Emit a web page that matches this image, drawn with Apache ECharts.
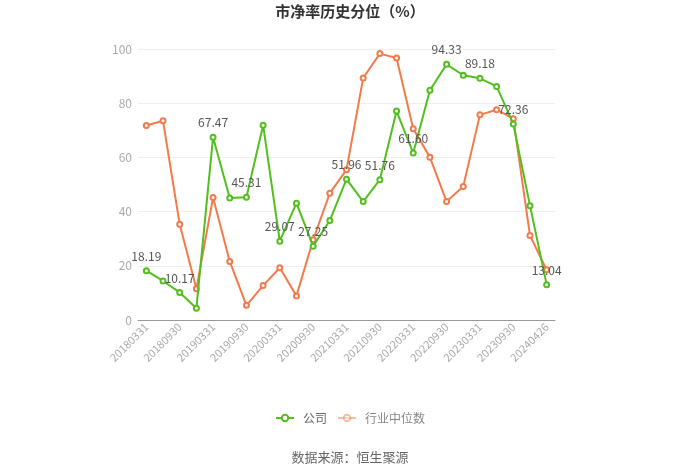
<!DOCTYPE html>
<html>
<head>
<meta charset="utf-8">
<script src="https://cdn.jsdelivr.net/npm/echarts@6/dist/echarts.min.js"></script>
<style>html,body{margin:0;padding:0;background:#fff}#c{width:700px;height:473px}</style>
</head>
<body>
<div id="c"></div>
<script>
var categories = ['20180331','20180630','20180930','20181231','20190331','20190630','20190930','20191231','20200331','20200630','20200930','20201231','20210331','20210630','20210930','20211231','20220331','20220630','20220930','20221231','20230331','20230630','20230930','20231231','20240426'];
var companyValues = [18.19,14.4,10.17,4.3,67.47,45.0,45.31,71.9,29.07,43.1,27.25,36.7,51.96,43.7,51.76,77.1,61.60,84.8,94.33,90.3,89.18,86.2,72.36,42.2,13.04];
var industryValues = [71.8,73.5,35.3,11.5,45.2,21.6,5.4,12.7,19.3,8.9,29.6,46.8,55.4,89.3,98.3,96.7,70.6,60.1,43.7,49.3,75.7,77.6,74.3,31.2,18.5];
var yTicks = [0,20,40,60,80,100];
var seriesNames = ['公司','行业中位数'];
var titleText = '市净率历史分位（%）';
var sourceText = '数据来源：恒生聚源';

var FONT = '"Noto Sans CJK SC","Noto Sans",sans-serif';
var green = '#52bf1e';
var orange = '#f47a4b';
var chart = echarts.init(document.getElementById('c'));
chart.setOption({
  backgroundColor: '#fff',
  textStyle: {fontFamily: FONT},
  title: {
    text: titleText, left: 'center', top: -1,
    textStyle: {fontSize: 15, fontWeight: 'bold', color: '#333', fontFamily: FONT}
  },
  legend: {
    top: 407, left: 'center',
    itemWidth: 18, itemHeight: 8, itemGap: 10,
    textStyle: {color: '#666', fontSize: 12, fontFamily: FONT, padding: [0, 0, 0, 4]},
    data: [
      {name: seriesNames[0]},
      {name: seriesNames[1], itemStyle: {opacity: 0.5}, lineStyle: {opacity: 0.5}, textStyle: {color: '#888'}}
    ]
  },
  graphic: [{
    type: 'text', left: 'center', top: 451,
    style: {text: sourceText, fill: '#666', fontSize: 13, fontFamily: FONT}
  }],
  grid: {left: 138, right: 145, top: 49, bottom: 153},
  xAxis: {
    type: 'category', data: categories, boundaryGap: true,
    axisLine: {lineStyle: {color: '#999'}},
    axisTick: {alignWithLabel: true, interval: 1, length: 4, lineStyle: {color: '#999'}},
    axisLabel: {interval: 1, rotate: 45, color: '#aaa', fontSize: 11, margin: 5}
  },
  yAxis: {
    type: 'value', min: yTicks[0], max: yTicks[yTicks.length-1], interval: 20,
    axisLine: {show: false}, axisTick: {show: false},
    axisLabel: {color: '#aaa', fontSize: 12, margin: 6},
    splitLine: {lineStyle: {color: '#eee'}}
  },
  series: [
    {
      name: seriesNames[0], type: 'line', data: companyValues,
      symbol: 'emptyCircle', symbolSize: 5,
      lineStyle: {width: 2, color: green}, itemStyle: {color: green},
      label: {
        show: true, position: 'top', color: '#555', fontSize: 12,
        formatter: function (p) { return p.dataIndex % 2 === 0 ? p.value.toFixed(2) : ''; }
      },
      z: 3
    },
    {
      name: seriesNames[1], type: 'line', data: industryValues,
      symbol: 'emptyCircle', symbolSize: 5,
      lineStyle: {width: 2, color: orange}, itemStyle: {color: orange},
      z: 2
    }
  ]
});
</script>
</body>
</html>
